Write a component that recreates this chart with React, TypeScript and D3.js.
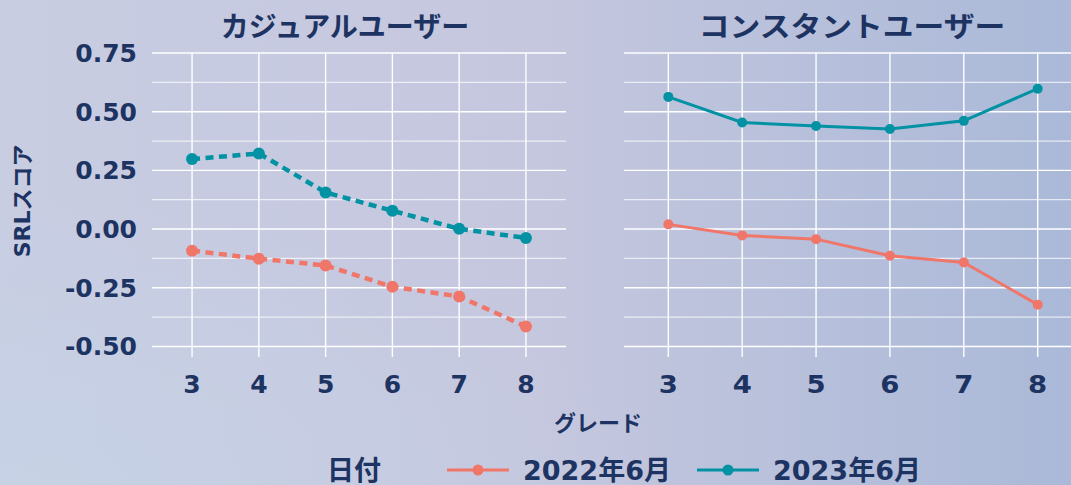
import React from 'react';
import * as d3 from 'd3';

const grades = [3, 4, 5, 6, 7, 8];
const casual2022 = [-0.092, -0.126, -0.155, -0.246, -0.287, -0.415];
const casual2023 = [0.298, 0.322, 0.156, 0.078, 0.001, -0.038];
const constant2022 = [0.02, -0.027, -0.043, -0.114, -0.142, -0.322];
const constant2023 = [0.563, 0.454, 0.439, 0.426, 0.461, 0.598];
const yTicks = [0.75, 0.5, 0.25, 0, -0.25, -0.5];
const yMinor = [0.625, 0.375, 0.125, -0.125, -0.375];
const panelTitles = ['カジュアルユーザー', 'コンスタントユーザー'];
const seriesNames = ['2022年6月', '2023年6月'];

const W = 1071;
const H = 485;
const navy = '#1d3362';
const salmon = '#ef7668';
const teal = '#0292a3';
const font = "'DejaVu Sans', 'Noto Sans CJK JP', sans-serif";

// y shared by both panels
const y = d3.scaleLinear().domain([-0.545, 0.75]).range([357, 53]);

// right panel is drawn a bit wider than the left one, text included
const panels = [
  { title: panelTitles[0], x: d3.scaleLinear().domain([2.4, 8.6]).range([152, 566]), a: casual2022, b: casual2023, dashed: true, titleX: 345, sx: 1 },
  { title: panelTitles[1], x: d3.scaleLinear().domain([2.4, 8.6]).range([624, 1082]), a: constant2022, b: constant2023, dashed: false, titleX: 852, sx: 1.1 },
];

const fmt = (v: number) => (v < 0 ? '-' : '') + Math.abs(v).toFixed(2);

const Panel = ({ p }: { p: typeof panels[0] }) => {
  const [x0, x1] = p.x.range();
  const line = d3.line<number>().x((_, i) => p.x(grades[i])).y(d => y(d));
  const r = p.dashed ? 6 : 5;
  const sw = p.dashed ? 4.5 : 3;
  const dash = p.dashed ? '8 5.5' : undefined;
  return (
    <g>
      {yMinor.map(v => (
        <line key={'m' + v} x1={x0} x2={x1} y1={y(v)} y2={y(v)} stroke="#fff" strokeOpacity={0.7} strokeWidth={1.2} />
      ))}
      {yTicks.map(v => (
        <line key={'t' + v} x1={x0} x2={x1} y1={y(v)} y2={y(v)} stroke="#fff" strokeWidth={1.4} />
      ))}
      {grades.map(g => (
        <line key={'g' + g} x1={p.x(g)} x2={p.x(g)} y1={53} y2={357} stroke="#fff" strokeWidth={1.4} />
      ))}
      {[p.a, p.b].map((s, k) => (
        <g key={k}>
          <path d={line(s) || ''} fill="none" stroke={k ? teal : salmon} strokeWidth={sw} strokeDasharray={dash} />
          {s.map((v, i) => (
            <circle key={i} cx={p.x(grades[i])} cy={y(v)} r={r} fill={k ? teal : salmon} />
          ))}
        </g>
      ))}
      {grades.map(g => (
        <text key={'l' + g} transform={`translate(${p.x(g)},393) scale(${p.sx},1)`} textAnchor="middle" fontSize={25} fontWeight="bold" fill={navy}>{g}</text>
      ))}
      <text transform={`translate(${p.titleX},37) scale(${p.sx},1)`} textAnchor="middle" fontSize={28} fontWeight="bold" fill={navy}>{p.title}</text>
    </g>
  );
};

export default function App() {
  return (
    <svg width={W} height={H} style={{ position: 'absolute', left: 0, top: 0, fontFamily: font }}>
      <defs>
        <linearGradient id="bg" x1="0" x2="1" y1="0" y2="0">
          <stop offset="0%" stopColor="#c8cde2" />
          <stop offset="50%" stopColor="#c5c7de" />
          <stop offset="100%" stopColor="#aab9d8" />
        </linearGradient>
        <radialGradient id="glow" cx="0" cy="1" r="0.6">
          <stop offset="0%" stopColor="#c6d3e6" stopOpacity={0.8} />
          <stop offset="100%" stopColor="#c6d3e6" stopOpacity={0} />
        </radialGradient>
      </defs>
      <rect width={W} height={H} fill="url(#bg)" />
      <rect width={W} height={H} fill="url(#glow)" />
      {panels.map((p, i) => <Panel key={i} p={p} />)}
      {yTicks.map(v => (
        <text key={v} x={137} y={y(v)} dy="0.36em" textAnchor="end" fontSize={25} fontWeight="bold" fill={navy}>{fmt(v)}</text>
      ))}
      <text transform={`translate(30,${y(0.12)}) rotate(-90)`} textAnchor="middle" fontSize={22} fontWeight="bold" fill={navy}>SRLスコア</text>
      <text x={598} y={431} textAnchor="middle" fontSize={22} fontWeight="bold" fill={navy}>グレード</text>
      <text x={354} y={480} textAnchor="middle" fontSize={27} fontWeight="bold" fill={navy}>日付</text>
      {seriesNames.map((n, i) => {
        const lx = i ? 697 : 447;
        const c = i ? teal : salmon;
        return (
          <g key={n}>
            <line x1={lx} x2={lx + 62} y1={470} y2={470} stroke={c} strokeWidth={3} />
            <circle cx={lx + 31} cy={470} r={5.5} fill={c} />
            <text x={lx + 76} y={480} fontSize={27} fontWeight="bold" fill={navy}>{n}</text>
          </g>
        );
      })}
    </svg>
  );
}
